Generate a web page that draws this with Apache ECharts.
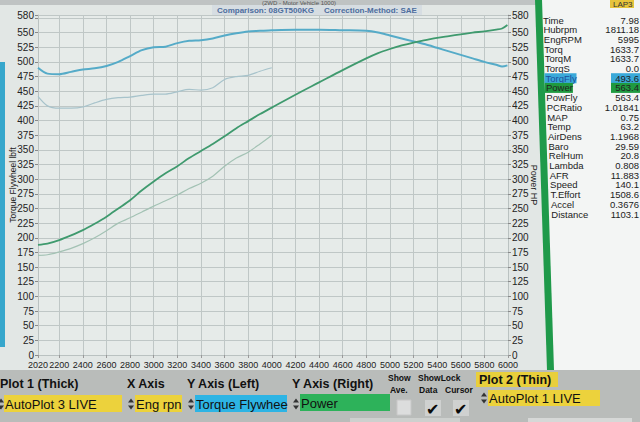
<!DOCTYPE html>
<html><head><meta charset="utf-8">
<script src="https://cdn.jsdelivr.net/npm/echarts@6/dist/echarts.min.js"></script>
<style>html,body{margin:0;padding:0;background:#e2e7e5;overflow:hidden}#c{width:640px;height:422px}</style>
</head><body><div id="c"></div>
<script>
// ---- data ----
const rpmThick = [2020,2100,2200,2300,2400,2500,2600,2700,2800,2900,3000,3100,3200,3300,3400,3500,3600,3700,3800,3900,4000,4200,4400,4600,4800,4900,5000,5100,5200,5300,5400,5500,5600,5700,5800,5900,5950,5995];
const torqueThick = [490,480,479,483,487,489,493,500,510,520,525,526,532,536,537,540,545,549,552,553,554,555,555,554,553,550,545,540,535,530,524,518,512,506,500,495,492,494];
const powerThick = [188,190,196,204,213,224,236,250,264,281,296,310,322,336,348,360,373,387,399,411,422,444,465,486,506,515,522,528,533,537,541,544,547,550,552,555,557,563];
const rpmThin = [2020,2100,2200,2300,2400,2500,2600,2700,2800,2900,3000,3100,3200,3300,3400,3500,3600,3700,3800,3900,4000];
const torqueThin = [441,425,421,421,423,430,436,439,440,443,445,445,449,453,452,456,470,475,477,484,490];
const powerThin = [170,171,176,182,190,200,212,225,234,244,254,263,273,284,293,305,322,336,346,360,375];
const xTicks = [2020,2200,2400,2600,2800,3000,3200,3400,3600,3800,4000,4200,4400,4600,4800,5000,5200,5400,5600,5800,6000];
const panelNames = ["Time","Hubrpm","EngRPM","Torq","TorqM","TorqS","TorqFly","Power","PowFly","PCRatio","MAP","Temp","AirDens","Baro","RelHum","Lambda","AFR","Speed","T.Effort","Accel","Distance"];
const panelValues = ["7.98","1811.18","5995","1633.7","1633.7","0.0","493.6","563.4","563.4","1.01841","0.75","63.2","1.1968","29.59","20.8","0.808","11.883","140.1","1508.6","0.3676","1103.1"];

const pairs = (xs, ys) => xs.map((x, i) => [x, ys[i]]);
const FONT = '"Liberation Sans", Arial, sans-serif';

const chart = echarts.init(document.getElementById('c'), null, {renderer: 'svg'});

const g = [];
// top band
g.push({type:'rect', shape:{x:0,y:0,width:640,height:5}, style:{fill:'#bfc3c3'}, z:-10});
g.push({type:'rect', shape:{x:212,y:5,width:210,height:11}, style:{fill:'#d6dde2'}, z:-9});
g.push({type:'text', x:262, y:0, style:{text:'(2WD - Motor Vehicle 1000)', font:'6px '+FONT, fill:'#555'}});
g.push({type:'text', x:217, y:6, style:{text:'Comparison: 08GT500KG', font:'bold 8px '+FONT, fill:'#4d6d9e'}});
g.push({type:'text', x:324, y:6, style:{text:'Correction-Method: SAE', font:'bold 8px '+FONT, fill:'#4d6d9e'}});
// left bezel strip
g.push({type:'rect', shape:{x:0,y:62,width:5,height:285}, style:{fill:'#37a7cc'}, z:-5});
// right panel
g.push({type:'polygon', shape:{points:[[538,0],[640,0],[640,370],[550,370]]}, style:{fill:'#f3f5f4'}, z:-8});
g.push({type:'polygon', shape:{points:[[535,0],[542,0],[554,370],[547,370]]}, style:{fill:'#1f9a4a'}, z:-7});
g.push({type:'rect', shape:{x:610,y:0,width:24,height:8}, style:{fill:'#e6c43c'}});
g.push({type:'text', x:613, y:0, style:{text:'LAP3', font:'8px '+FONT, fill:'#333'}});
panelNames.forEach((n, i) => {
  const y = 20 + i * 9.7;
  const x = 542 + 0.043 * (y - 20);
  if (n === 'TorqFly') {
    g.push({type:'rect', shape:{x:x,y:y-5,width:32,height:10}, style:{fill:'#3aa9d9'}});
    g.push({type:'rect', shape:{x:611,y:y-5,width:29,height:10}, style:{fill:'#3aa9d9'}});
  }
  if (n === 'Power') {
    g.push({type:'rect', shape:{x:x,y:y-5,width:28,height:10}, style:{fill:'#1f9a40'}});
    g.push({type:'rect', shape:{x:611,y:y-5,width:29,height:10}, style:{fill:'#1f9a40'}});
  }
  g.push({type:'text', x:x+1, y:y, style:{text:n, font:'9.5px '+FONT, fill: n==='TorqFly' ? '#1d4f9c' : '#222', verticalAlign:'middle'}});
  g.push({type:'text', x:639, y:y, style:{text:panelValues[i], font:'9.5px '+FONT, fill:'#222', align:'right', verticalAlign:'middle'}});
});
// bottom control panel
g.push({type:'rect', shape:{x:0,y:370,width:640,height:52}, style:{fill:'#b9bcba'}, z:-6});
g.push({type:'rect', shape:{x:350,y:418,width:110,height:4}, style:{fill:'#cdd0ce'}, z:-5});
g.push({type:'rect', shape:{x:528,y:418,width:104,height:4}, style:{fill:'#d6d8d7'}, z:-5});
const lbl = (t, x, y, s, w) => g.push({type:'text', x:x, y:y, style:{text:t, font:(w||'normal')+' '+s+'px '+FONT, fill:'#111', verticalAlign:'middle'}});
g.push({type:'rect', shape:{x:476,y:372,width:82,height:15}, style:{fill:'#e8cf3c'}});
lbl('Plot 1 (Thick)', 0, 384, 12.5, 'bold');
lbl('X Axis', 127, 384, 12.5, 'bold');
lbl('Y Axis (Left)', 187, 384, 12.5, 'bold');
lbl('Y Axis (Right)', 292, 384, 12.5, 'bold');
lbl('Plot 2 (Thin)', 479, 380, 12.5, 'bold');
lbl('Show', 388, 378, 8.5, 'bold');
lbl('Ave.', 390, 390, 8.5, 'bold');
lbl('ShowLock', 418, 378, 8.5, 'bold');
lbl('Data', 419, 390, 8.5, 'bold');
lbl('Cursor', 445, 390, 8.5, 'bold');
// value boxes
const box = (x, w, fill, t, y, h) => {
  g.push({type:'rect', shape:{x:x,y:y,width:w,height:h}, style:{fill:fill}});
  g.push({type:'text', x:x+1, y:y+h/2+0.5, style:{text:t, font:'13px '+FONT, fill:'#111', verticalAlign:'middle'}});
};
box(4, 118, '#ecd23c', 'AutoPlot 3 LIVE', 395, 17);
box(135, 47, '#ecd23c', 'Eng rpn', 395, 17);
box(195, 92, '#2db4e4', 'Torque Flywhee', 395, 17);
box(300, 90, '#2db25a', 'Power', 394, 17);
box(488, 112, '#ecd23c', 'AutoPlot 1 LIVE', 390, 16);
[[-3,404],[127,404],[187,404],[292,404],[480,398]].forEach(p => {
  g.push({type:'polygon', shape:{points:[[p[0]+1,p[1]-1.5],[p[0]+4,p[1]-5.5],[p[0]+7,p[1]-1.5]]}, style:{fill:'#333'}});
  g.push({type:'polygon', shape:{points:[[p[0]+1,p[1]+1.5],[p[0]+4,p[1]+5.5],[p[0]+7,p[1]+1.5]]}, style:{fill:'#333'}});
});
g.push({type:'rect', shape:{x:397,y:400,width:14,height:15}, style:{fill:'#dcdddd', stroke:'#c8c8c8'}});
g.push({type:'rect', shape:{x:425,y:400,width:16,height:16}, style:{fill:'#cfd1d0'}});
g.push({type:'rect', shape:{x:453,y:400,width:16,height:16}, style:{fill:'#cfd1d0'}});
g.push({type:'text', x:426, y:409, style:{text:'✔', font:'16px "DejaVu Sans"', fill:'#0a0a0a', verticalAlign:'middle'}});
g.push({type:'text', x:454, y:409, style:{text:'✔', font:'16px "DejaVu Sans"', fill:'#0a0a0a', verticalAlign:'middle'}});

const axisLabelY = {color:'#222', fontSize:10, fontFamily:FONT, margin:4, formatter: v => (v === 575 ? '' : String(v))};

chart.setOption({
  animation: false,
  backgroundColor: 'transparent',
  grid: {left:36, right:132, top:15, bottom:67, show:true, backgroundColor:'#e6ebe9', borderWidth:0},
  xAxis: {
    type:'value', min:2020, max:6000,
    axisLine:{show:true, lineStyle:{color:'#bac2c1'}},
    axisTick:{show:true, customValues:xTicks, length:3, lineStyle:{color:'#999'}},
    axisLabel:{customValues:xTicks, color:'#222', fontSize:9, fontFamily:FONT, margin:5,
               showMinLabel:true, showMaxLabel:true, hideOverlap:false, formatter: v => String(v)},
    splitLine:{show:true, lineStyle:{color:'#bfc7c6', width:1}}
  },
  yAxis: [
    {type:'value', min:0, max:580, interval:25, position:'left',
     name:'Torque Flywheel lbft', nameLocation:'middle', nameGap:21, nameMoveOverlap:false,
     nameTextStyle:{color:'#222', fontSize:8.5, fontFamily:FONT},
     axisLine:{show:true, lineStyle:{color:'#bac2c1'}},
     axisTick:{show:true, length:3, lineStyle:{color:'#888'}},
     axisLabel:axisLabelY,
     splitLine:{show:true, lineStyle:{color:'#bfc7c6', width:1}}},
    {type:'value', min:0, max:580, interval:25, position:'right',
     name:'Power HP', nameLocation:'middle', nameGap:21, nameRotate:-90, nameMoveOverlap:false,
     nameTextStyle:{color:'#222', fontSize:9, fontFamily:FONT},
     axisLine:{show:true, lineStyle:{color:'#bac2c1'}},
     axisTick:{show:true, length:3, lineStyle:{color:'#888'}},
     axisLabel:axisLabelY,
     splitLine:{show:false}}
  ],
  series: [
    {name:'Torque Flywheel (thin)', type:'line', yAxisIndex:0, data:pairs(rpmThin, torqueThin), showSymbol:false, smooth:0.3, lineStyle:{color:'#a7c3cb', width:1.2}, z:2},
    {name:'Power (thin)', type:'line', yAxisIndex:1, data:pairs(rpmThin, powerThin), showSymbol:false, smooth:0.3, lineStyle:{color:'#a3c2b4', width:1.2}, z:2},
    {name:'Torque Flywheel', type:'line', yAxisIndex:0, data:pairs(rpmThick, torqueThick), showSymbol:false, smooth:0.3, lineStyle:{color:'#55abc8', width:2}, z:3},
    {name:'Power', type:'line', yAxisIndex:1, data:pairs(rpmThick, powerThick), showSymbol:false, smooth:0.3, lineStyle:{color:'#3f9a6e', width:1.8}, z:3}
  ],
  graphic: g
});
</script></body></html>
